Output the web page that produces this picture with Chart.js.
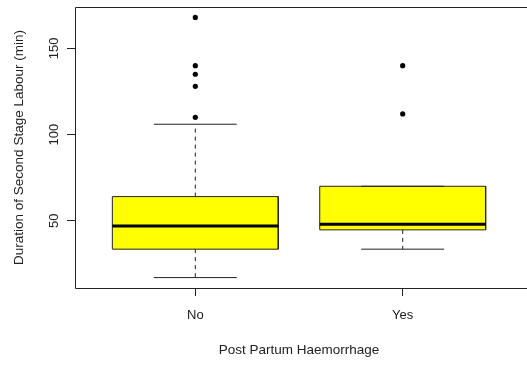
<!DOCTYPE html>
<html>
<head>
<meta charset="utf-8">
<script src="https://cdn.jsdelivr.net/npm/chart.js@4/dist/chart.umd.min.js"></script>
<style>
  html, body { margin: 0; padding: 0; background: #ffffff; }
  #wrap { width: 527px; height: 365px; }
</style>
</head>
<body>
<div id="wrap"><canvas id="c" width="527" height="365"></canvas></div>
<script>
// ---- data ----
const categories = ['No', 'Yes'];
const q1 = [33.5, 44.7];
const medians = [47, 48];
const q3 = [64, 70];
const whiskerLow = [17, 33.5];
const whiskerHigh = [106, 70];
const outliers = [
  [110, 128, 135, 140, 168],
  [112, 140]
];
const yTicks = [50, 100, 150];
const xTitle = 'Post Partum Haemorrhage';
const yTitle = 'Duration of Second Stage Labour (min)';

// ---- styling ----
const FONT = 'Liberation Sans, Arial, sans-serif';
const INK = '#222222';
const BOX_FILL = '#FFFF00';
const BOX_HALF = 0.4;   // boxwex 0.8
const CAP_HALF = 0.2;   // staplewex 0.5

const datasets = [];
categories.forEach((cat, i) => {
  const x = i + 1;
  datasets.push({
    type: 'line', showLine: true, order: 10,
    data: [{x: x - BOX_HALF, y: q3[i]}, {x: x + BOX_HALF, y: q3[i]}],
    fill: {value: q1[i]}, backgroundColor: BOX_FILL,
    borderWidth: 0, borderColor: 'rgba(0,0,0,0)', pointRadius: 0
  });
  datasets.push({
    type: 'line', showLine: true, order: 5,
    data: [
      {x: x - BOX_HALF, y: q1[i]}, {x: x - BOX_HALF, y: q3[i]},
      {x: x + BOX_HALF, y: q3[i]}, {x: x + BOX_HALF, y: q1[i]},
      {x: x - BOX_HALF, y: q1[i]}
    ],
    fill: false, borderColor: INK, borderWidth: 1, pointRadius: 0
  });
  datasets.push({
    type: 'line', showLine: true, order: 1,
    data: [{x: x - BOX_HALF, y: medians[i]}, {x: x + BOX_HALF, y: medians[i]}],
    fill: false, borderColor: '#000000', borderWidth: 3, pointRadius: 0
  });
  datasets.push({
    type: 'line', showLine: true, order: 6,
    data: [{x: x, y: q3[i]}, {x: x, y: whiskerHigh[i]}],
    fill: false, borderColor: INK, borderWidth: 1, borderDash: [4, 4], pointRadius: 0
  });
  datasets.push({
    type: 'line', showLine: true, order: 6,
    data: [{x: x, y: q1[i]}, {x: x, y: whiskerLow[i]}],
    fill: false, borderColor: INK, borderWidth: 1, borderDash: [4, 4], pointRadius: 0
  });
  datasets.push({
    type: 'line', showLine: true, order: 4,
    data: [{x: x - CAP_HALF, y: whiskerHigh[i]}, {x: x + CAP_HALF, y: whiskerHigh[i]}],
    fill: false, borderColor: INK, borderWidth: 1, pointRadius: 0
  });
  datasets.push({
    type: 'line', showLine: true, order: 4,
    data: [{x: x - CAP_HALF, y: whiskerLow[i]}, {x: x + CAP_HALF, y: whiskerLow[i]}],
    fill: false, borderColor: INK, borderWidth: 1, pointRadius: 0
  });
  datasets.push({
    type: 'scatter', order: 0,
    data: outliers[i].map(v => ({x: x, y: v})),
    pointRadius: 2.6, pointBackgroundColor: '#000000', pointBorderWidth: 0,
    borderColor: '#000000', showLine: false
  });
});

const framePlugin = {
  id: 'frame',
  afterDraw(chart) {
    const {ctx, chartArea: a, scales} = chart;
    ctx.save();
    ctx.strokeStyle = INK;
    ctx.lineWidth = 1;
    ctx.beginPath();
    ctx.moveTo(a.right + 20, a.top + 0.5);
    ctx.lineTo(a.left + 0.5, a.top + 0.5);
    ctx.lineTo(a.left + 0.5, a.bottom + 0.5);
    ctx.lineTo(a.right + 20, a.bottom + 0.5);
    ctx.stroke();
    ctx.fillStyle = INK;
    ctx.font = '13px ' + FONT;
    ctx.textAlign = 'center';
    ctx.textBaseline = 'alphabetic';
    const ys = scales.y;
    yTicks.forEach(v => {
      const py = ys.getPixelForValue(v);
      ctx.save();
      ctx.translate(a.left - 17.5, py);
      ctx.rotate(-Math.PI / 2);
      ctx.fillText(String(v), 0, 0);
      ctx.restore();
    });
    ctx.restore();
  }
};

new Chart(document.getElementById('c'), {
  type: 'scatter',
  data: { datasets },
  options: {
    responsive: false,
    animation: false,
    events: [],
    layout: { padding: { left: 0, top: 7, right: -3, bottom: 0 } },
    plugins: { legend: { display: false }, tooltip: { enabled: false } },
    scales: {
      x: {
        type: 'linear', min: 0.42, max: 2.58,
        afterBuildTicks(s) { s.ticks = categories.map((c, i) => ({value: i + 1})); },
        afterFit(s) { s.height = 77; },
        ticks: {
          color: INK, padding: 12, autoSkip: false, maxRotation: 0,
          font: { family: FONT, size: 13 },
          callback: (v) => categories[Math.round(v) - 1] || ''
        },
        grid: { drawOnChartArea: false, drawTicks: true, tickLength: 8, color: INK, lineWidth: 1 },
        border: { display: false },
        title: {
          display: true, text: xTitle, color: INK,
          font: { family: FONT, size: 13.5 },
          padding: { top: 0, bottom: 7 }
        }
      },
      y: {
        type: 'linear', min: 10.96, max: 174.04,
        afterBuildTicks(s) { s.ticks = yTicks.map(v => ({value: v})); },
        afterFit(s) { s.width = 75; },
        ticks: { display: false },
        grid: { drawOnChartArea: false, drawTicks: true, tickLength: 8, color: INK, lineWidth: 1 },
        border: { display: false },
        title: {
          display: true, text: yTitle, color: INK,
          font: { family: FONT, size: 13.5 },
          padding: { top: 11, bottom: 0 }
        }
      }
    }
  },
  plugins: [framePlugin]
});
</script>
</body>
</html>
